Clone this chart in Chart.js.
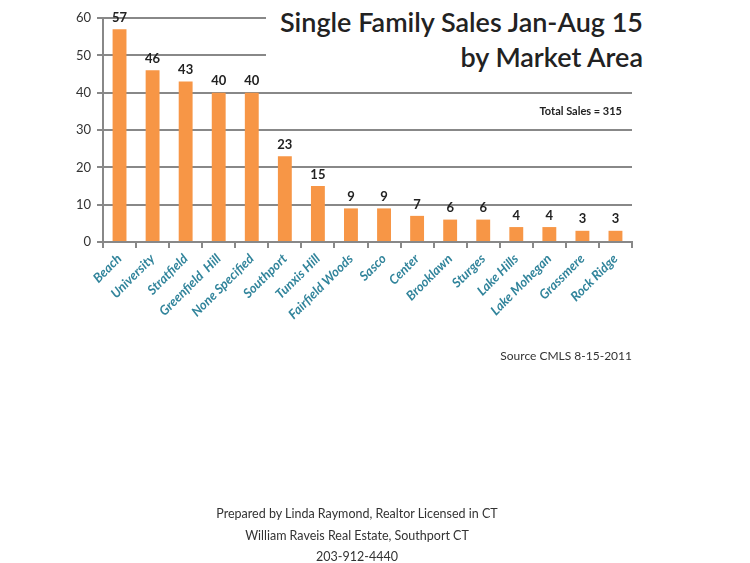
<!DOCTYPE html>
<html>
<head>
<meta charset="utf-8">
<script src="https://cdn.jsdelivr.net/npm/chart.js@4"></script>
<style>
  html, body { margin: 0; padding: 0; background: #fff; overflow: hidden; }
  #wrap { position: relative; width: 750px; height: 563px; font-family: Lato, "Open Sans", sans-serif; }
  #chart { position: absolute; left: 0; top: 0; }
  .txt { position: absolute; color: #222; white-space: nowrap; }
  #titlebox { position: absolute; left: 266px; top: 0; width: 380px; height: 78px; background: #fff; }
  #title { right: 107px; top: 4px; text-align: right; font-size: 27px; font-weight: 600; line-height: 35px; }
  #total { right: 128px; top: 104px; font-size: 11px; font-weight: 700; }
  #source { right: 118px; top: 348px; font-size: 12px; color: #333; }
  #footer { left: 157px; width: 400px; top: 503px; text-align: center; font-size: 12.5px; line-height: 21.5px; color: #333; }
</style>
</head>
<body>
<div id="wrap">
  <canvas id="chart" width="750" height="563"></canvas>
  <div id="titlebox"></div>
  <div class="txt" id="title">Single Family Sales Jan-Aug 15<br>by Market Area</div>
  <div class="txt" id="total">Total Sales = 315</div>
  <div class="txt" id="source">Source CMLS 8-15-2011</div>
  <div class="txt" id="footer">Prepared by Linda Raymond, Realtor Licensed in CT<br>William Raveis Real Estate, Southport CT<br>203-912-4440</div>
</div>
<script>
// Market areas and sales counts
const areas = ['Beach', 'University', 'Stratfield', 'Greenfield  Hill', 'None Specified', 'Southport',
  'Tunxis Hill', 'Fairfield Woods', 'Sasco', 'Center', 'Brooklawn', 'Sturges', 'Lake Hills',
  'Lake Mohegan', 'Grassmere', 'Rock Ridge'];
const sales = [57, 46, 43, 40, 40, 23, 15, 9, 9, 7, 6, 6, 4, 4, 3, 3];
const yTicks = [0, 10, 20, 30, 40, 50, 60];

// draw the value above each bar
const valueLabels = {
  id: 'valueLabels',
  afterDatasetsDraw(chart) {
    const ctx = chart.ctx;
    const meta = chart.getDatasetMeta(0);
    ctx.save();
    ctx.font = 'bold 13px Lato, sans-serif';
    ctx.fillStyle = '#222';
    ctx.textAlign = 'center';
    ctx.textBaseline = 'bottom';
    meta.data.forEach((bar, i) => {
      ctx.fillText(sales[i], bar.x, bar.y - 5);
    });
    ctx.restore();
  }
};

new Chart(document.getElementById('chart'), {
  type: 'bar',
  data: {
    labels: areas,
    datasets: [{
      data: sales,
      backgroundColor: '#F79646',
      barPercentage: 0.42,
      categoryPercentage: 1.0
    }]
  },
  options: {
    responsive: false,
    animation: false,
    layout: { padding: { left: 63, top: 18, right: 118, bottom: 231 } },
    plugins: { legend: { display: false }, tooltip: { enabled: false } },
    scales: {
      x: {
        afterFit: s => { s.height = 90; },
        grid: { drawOnChartArea: false, drawTicks: true, tickLength: 6, color: '#888', lineWidth: 2 },
        border: { color: '#888', width: 2 },
        ticks: {
          minRotation: 45, maxRotation: 45, autoSkip: false,
          color: '#31849B',
          font: { family: 'Lato, sans-serif', size: 13, style: 'italic', weight: '700' }
        }
      },
      y: {
        min: 0, max: 60,
        afterFit: s => { s.width = 40; },
        afterBuildTicks: s => { s.ticks = yTicks.map(v => ({ value: v })); },
        grid: { color: '#888', lineWidth: 2, tickLength: 6 },
        border: { color: '#888', width: 2 },
        ticks: { color: '#333', font: { family: 'Lato, sans-serif', size: 13 }, padding: 6 }
      }
    }
  },
  plugins: [valueLabels]
});
</script>
</body>
</html>
